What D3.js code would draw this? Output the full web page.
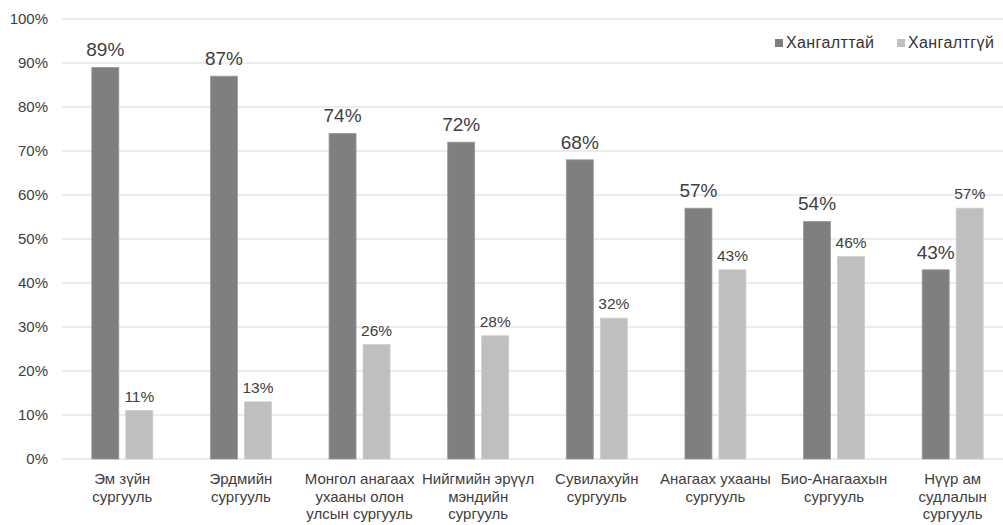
<!DOCTYPE html>
<html>
<head>
<meta charset="utf-8">
<script src="https://cdn.jsdelivr.net/npm/d3@7"></script>
<style>
  html, body { margin: 0; padding: 0; background: #fff; }
  svg { display: block; font-family: "Liberation Sans", Arial, sans-serif; }
</style>
</head>
<body>
<svg id="chart" width="1003" height="525"></svg>
<script>
const categories = [
  ["Эм зүйн", "сургууль"],
  ["Эрдмийн", "сургууль"],
  ["Монгол анагаах", "ухааны олон", "улсын сургууль"],
  ["Нийгмийн эрүүл", "мэндийн", "сургууль"],
  ["Сувилахуйн", "сургууль"],
  ["Анагаах ухааны", "сургууль"],
  ["Био-Анагаахын", "сургууль"],
  ["Нүүр ам", "судлалын", "сургууль"]
];
const seriesNames = ["Хангалттай", "Хангалтгүй"];
const sufficient = [89, 87, 74, 72, 68, 57, 54, 43];
const insufficient = [11, 13, 26, 28, 32, 43, 46, 57];
const yTicks = [0, 10, 20, 30, 40, 50, 60, 70, 80, 90, 100];

const colors = ["#7f7f7f", "#bfbfbf"];
const svg = d3.select("#chart");
const ids = categories.map((c, i) => i);

const y = d3.scaleLinear().domain([0, 100]).range([459, 19]);
const x0 = d3.scaleBand().domain(ids).range([63, 1012]).paddingInner(0).paddingOuter(0);
const bw = x0.bandwidth();
const groupW = 61;
const x1 = d3.scaleBand().domain(seriesNames)
  .range([(bw - groupW) / 2, (bw + groupW) / 2]).paddingInner(7 / 34).paddingOuter(0);

// gridlines
svg.append("g").selectAll("line").data(yTicks).join("line")
  .attr("x1", 62).attr("x2", 1003)
  .attr("y1", d => y(d)).attr("y2", d => y(d))
  .attr("stroke", "#e6e6e6").attr("stroke-width", 1.5);

// y axis labels
const yAxis = d3.axisLeft(y).tickValues(yTicks).tickFormat(d => d + "%").tickSize(0).tickPadding(0);
const ga = svg.append("g").attr("transform", "translate(48,0)").call(yAxis);
ga.select(".domain").remove();
ga.selectAll("text").attr("font-size", 15).attr("fill", "#404040")
  .attr("font-family", "Liberation Sans, Arial, sans-serif");

const series = [sufficient, insufficient];
const rows = ids.map(i => seriesNames.map((s, k) => ({ i, s, k, v: series[k][i] })));

const groups = svg.append("g").selectAll("g").data(rows).join("g")
  .attr("transform", (d, i) => `translate(${x0(i)},0)`);

groups.selectAll("rect").data(d => d).join("rect")
  .attr("x", d => x1(d.s))
  .attr("width", x1.bandwidth())
  .attr("y", d => y(d.v))
  .attr("height", d => y(0) - y(d.v))
  .attr("fill", d => colors[d.k])
  .attr("stroke", d => d.k === 0 ? "#9a9a9a" : "#cdcdcd")
  .attr("stroke-width", 0.8);

groups.selectAll("text.val").data(d => d).join("text")
  .attr("class", "val")
  .attr("x", d => x1(d.s) + x1.bandwidth() / 2)
  .attr("y", d => y(d.v) - (d.k === 0 ? 11 : 9))
  .attr("text-anchor", "middle")
  .attr("font-size", d => d.k === 0 ? 19 : 15.5)
  .attr("fill", "#404040")
  .text(d => d.v + "%");

// x labels
svg.append("g").selectAll("text").data(ids).join("text")
  .attr("x", i => x0(i) + bw / 2)
  .attr("y", 484)
  .attr("text-anchor", "middle")
  .attr("font-size", 15)
  .attr("fill", "#404040")
  .selectAll("tspan").data(i => categories[i]).join("tspan")
  .attr("x", function() { return d3.select(this.parentNode).attr("x"); })
  .attr("dy", (d, j) => j === 0 ? 0 : 17.5)
  .text(d => d);

// legend
const legendX = [775, 897];
const lg = svg.append("g").selectAll("g").data(seriesNames).join("g")
  .attr("transform", (d, k) => `translate(${legendX[k]},39)`);
lg.append("rect").attr("width", 8).attr("height", 8).attr("fill", (d, k) => colors[k]);
lg.append("text").attr("x", 11).attr("y", 9).attr("font-size", 16)
  .attr("letter-spacing", 0.4).attr("fill", "#333").text(d => d);
</script>
</body>
</html>
